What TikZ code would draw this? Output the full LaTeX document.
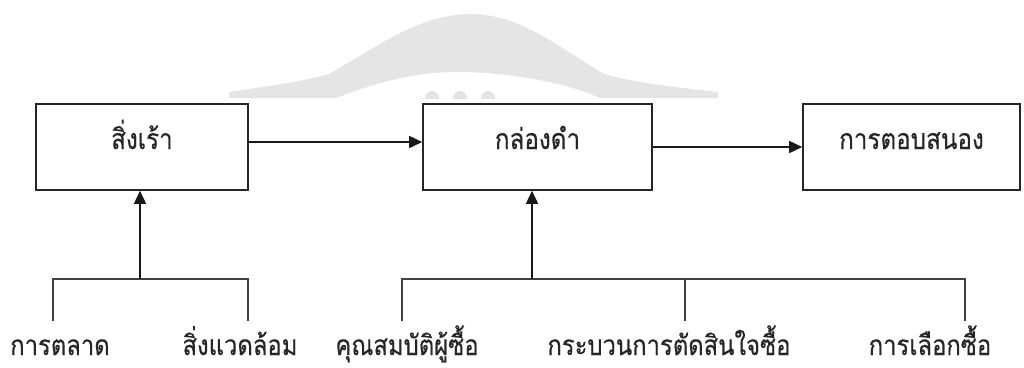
\documentclass[tikz,border=0pt]{standalone}
\usepackage{fontspec}
\newfontfamily\thaifont[Script=Thai,FakeStretch=0.85,FakeBold=0.4]{Loma}
\usetikzlibrary{arrows.meta}
\tikzset{
  box/.style={draw=black!85, line width=1.6pt, inner sep=0pt, minimum width=#1, minimum height=86pt,
    font=\thaifont\fontsize{28.5}{32}\selectfont, text height=12pt, text depth=8pt},
  lbl/.style={inner sep=0pt, anchor=base, font=\thaifont\fontsize{28}{32}\selectfont, text=black!85,
    text height=26pt, text depth=5pt},
  arr/.style={draw=black!90, line width=1.6pt, -{Triangle[length=13pt,width=12pt]}},
  ln/.style={draw=black!75, line width=1.4pt},
}
\begin{document}
\begin{tikzpicture}[x=1pt,y=-1pt]
\useasboundingbox (0,0) rectangle (1024,367);
% faint watermark
\fill[black!10] (229,98) -- (229,92) .. controls (270,86) and (310,80) .. (329,74)
  .. controls (380,45) and (420,14) .. (471,14) .. controls (520,14) and (560,48) .. (604,74)
  .. controls (630,82) and (680,88) .. (718,92) -- (718,98) -- (600,98)
  .. controls (560,80) and (500,72) .. (457,72) .. controls (410,72) and (370,85) .. (336,98) -- cycle;
\begin{scope}
\clip (380,80) rectangle (560,98);
\fill[black!11] (432,98) circle (7) (460,98) circle (7) (488,98) circle (7);
\end{scope}
% boxes
\node[box=212pt, text=black!85] (b1) at (142,147) {สิ่งเร้า};
\node[box=229pt, text=black!85] (b2) at (537.5,147) {กล่องดำ};
\node[box=217pt, text=black!85] (b3) at (911.5,147) {การตอบสนอง};
% labels
\node[lbl] (l1) at (60,355) {การตลาด};
\node[lbl] (l2) at (240,355) {สิ่งแวดล้อม};
\node[lbl] (l3) at (407,355) {คุณสมบัติผู้ซื้อ};
\node[lbl] (l4) at (669,355) {กระบวนการตัดสินใจซื้อ};
\node[lbl] (l5) at (930,355) {การเลือกซื้อ};
% junction coordinates
\coordinate (r1) at (0,142);
\coordinate (j1) at (140,279);
\coordinate (j2) at (532,279);
\coordinate (e1) at (53,321);
\coordinate (e2) at (248,321);
\coordinate (e3) at (402,321);
\coordinate (e4) at (685,321);
\coordinate (e5) at (965,321);
% connectors
\draw[arr] (b1.east |- r1) -- (b2.west |- r1);
\draw[arr] (b2.east) -- (b3.west);
\draw[ln] (e1) |- (j1) -| (e2);
\draw[arr] (j1) -- (b1.south -| j1);
\draw[ln] (e3) |- (j2) -| (e5);
\draw[ln] (e4) -- (e4 |- j2);
\draw[arr] (j2) -- (b2.south -| j2);
\end{tikzpicture}
\end{document}
